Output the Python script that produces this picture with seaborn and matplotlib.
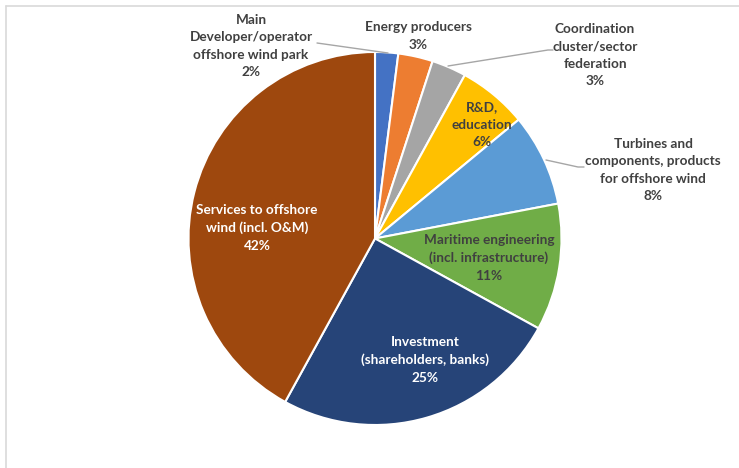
import matplotlib
matplotlib.use("Agg")
import matplotlib.pyplot as plt
from matplotlib.lines import Line2D
import seaborn as sns

# Share of offshore-wind actors by category (clockwise from 12 o'clock)
categories = [
    "Main\nDeveloper/operator\noffshore wind park",
    "Energy producers",
    "Coordination\ncluster/sector\nfederation",
    "R&D,\neducation",
    "Turbines and\ncomponents, products\nfor offshore wind",
    "Maritime engineering\n(incl. infrastructure)",
    "Investment\n(shareholders, banks)",
    "Services to offshore\nwind (incl. O&M)",
]
shares = [2, 3, 3, 6, 8, 11, 25, 42]
colors = ["#4472C4", "#ED7D31", "#A5A5A5", "#FFC000",
          "#5B9BD5", "#70AD47", "#264478", "#9E480E"]

sns.set_theme(style="white")
plt.rcParams["font.family"] = ["Lato", "DejaVu Sans"]

W, H = 739, 468
fig = plt.figure(figsize=(W / 100, H / 100), dpi=100)
fig.patch.set_facecolor("white")

# pie centre / radius in pixels
cx, cy, r = 375, 238.5, 186.5
ax = fig.add_axes([(cx - r) / W, (H - cy - r) / H, 2 * r / W, 2 * r / H])
ax.pie(shares, colors=sns.color_palette(colors), startangle=90,
       counterclock=False,
       wedgeprops=dict(edgecolor="white", linewidth=1.5))
ax.set_xlim(-1, 1)
ax.set_ylim(-1, 1)
ax.set_aspect("equal")
ax.axis("off")

dark = "#404040"


def px(x, y):
    return x / W, 1 - y / H


def label(i, x, y, color):
    txt = f"{categories[i]}\n{shares[i]}%"
    fx, fy = px(x, y)
    fig.text(fx, fy, txt, ha="center", va="center", color=color,
             fontsize=9.8, fontweight="bold", linespacing=1.55)


# outside labels
label(0, 251, 46, dark)
label(1, 418, 36, dark)
label(2, 595, 55, dark)
label(4, 653, 170, dark)
# inside labels
label(3, 482, 125, dark)
label(5, 489, 258, dark)
label(6, 425, 360, "white")
label(7, 257, 228, "white")


def leader(points):
    xs = [p[0] / W for p in points]
    ys = [1 - p[1] / H for p in points]
    fig.add_artist(Line2D(xs, ys, color="#A6A6A6", linewidth=1.0))


leader([(317, 43), (388, 53)])
leader([(448, 66), (548, 50), (553, 50)])
leader([(546, 160), (578, 167), (584, 167)])

# frame edges at top and left
fig.add_artist(Line2D([6 / W, 1], [1 - 5.5 / H, 1 - 5.5 / H],
                      color="#D9D9D9", linewidth=1.2))
fig.add_artist(Line2D([5.5 / W, 5.5 / W], [0, 1 - 5.5 / H],
                      color="#D9D9D9", linewidth=1.2))

fig.savefig("out.png", dpi=100)
